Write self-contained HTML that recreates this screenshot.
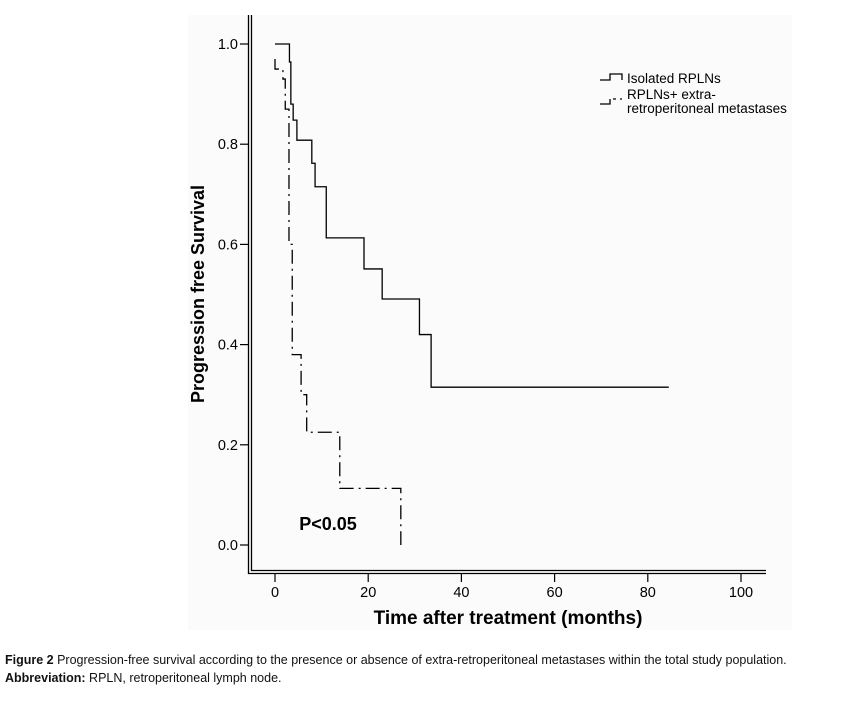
<!DOCTYPE html>
<html><head><meta charset="utf-8"><style>
body{margin:0;background:#fff;width:842px;height:706px;overflow:hidden;font-family:"Liberation Sans",sans-serif}
.cap{position:absolute;left:5px;font-size:12.5px;color:#111}
</style></head><body>
<svg width="842" height="640" style="position:absolute;left:0;top:0">
<rect x="188" y="15" width="604" height="615" fill="#fbfbfb"/>
<g id="axes" stroke="#000" fill="none"></g>
<g id="curves" fill="none"></g>
<g font-size="14.5" fill="#000" id="labels"></g>
<text x="328" y="530" font-size="18" font-weight="bold" text-anchor="middle">P&lt;0.05</text>
<text x="508" y="624" font-size="19" font-weight="bold" text-anchor="middle">Time after treatment (months)</text>
<text transform="translate(204,294) rotate(-90)" font-size="18" font-weight="bold" text-anchor="middle">Progression free Survival</text>
<g>
<path d="M600,80 H610 V74 H622 V80" stroke="#000" fill="none" stroke-width="1.3"/>
<text x="627" y="83" font-size="13.5">Isolated RPLNs</text>
<path d="M600,104 H610 V99 M613,99 H616 M620,99 H622" stroke="#000" fill="none" stroke-width="1.3"/>
<text x="627" y="99" font-size="13.5">RPLNs+ extra-</text>
<text x="627" y="113" font-size="13.5">retroperitoneal metastases</text>
</g>
</svg>
<div class="cap" style="top:653px"><b>Figure 2</b> Progression-free survival according to the presence or absence of extra-retroperitoneal metastases within the total study population.</div>
<div class="cap" style="top:671px"><b>Abbreviation:</b> RPLN, retroperitoneal lymph node.</div>
<script>
const xTicks=[0,20,40,60,80,100];
const yTicks=[0,0.2,0.4,0.6,0.8,1.0];
const isoTimes=[0,3.1,3.4,3.9,4.7,7.9,8.6,11,19.1,23,31,33.5];
const isoSurv=[1,0.964,0.88,0.848,0.808,0.762,0.715,0.613,0.551,0.491,0.42,0.315];
const isoEnd=84.5;
const extTimes=[0,0,1.7,2.2,3,3.7,5.6,6.8,13.9,27];
const extSurv=[0.97,0.95,0.93,0.87,0.6,0.38,0.3,0.225,0.113,0];
const X=t=>275+t*4.66, Y=s=>545-s*501;
const NS="http://www.w3.org/2000/svg";
function mk(tag,at,parent){const e=document.createElementNS(NS,tag);for(const k in at)e.setAttribute(k,at[k]);document.getElementById(parent).appendChild(e);return e;}
let a=mk('path',{d:'M248.5,15 V573.5 H766 M251.5,15 V570.5 H766',"stroke-width":1.3},'axes');


yTicks.forEach(v=>{
 let l=mk('line',{x1:240,x2:249,y1:Y(v),y2:Y(v),"stroke-width":1.2},'axes');
 
 
 let t=mk('text',{x:238,y:Y(v)+5,"text-anchor":"end"},'labels');t.textContent=v.toFixed(1);
 
 
});
xTicks.forEach(v=>{
 let l=mk('line',{x1:X(v),x2:X(v),y1:574,y2:582,"stroke-width":1.2},'axes');
 
 
 let t=mk('text',{x:X(v),y:597,"text-anchor":"middle"},'labels');t.textContent=v;
 
 
});
function step(ts,ss,end){let d='M'+X(ts[0])+','+Y(ss[0]);for(let i=1;i<ts.length;i++){d+=' H'+X(ts[i])+' V'+Y(ss[i]);}if(end!=null)d+=' H'+X(end);return d;}
let c1=mk('path',{d:step(isoTimes,isoSurv,isoEnd),stroke:'#000',"stroke-width":1.3},'curves');


let c2=mk('path',{d:step(extTimes,extSurv,null),stroke:'#000',"stroke-width":1.3,"stroke-dasharray":"14,5,2,5"},'curves');


</script>
</body></html>
